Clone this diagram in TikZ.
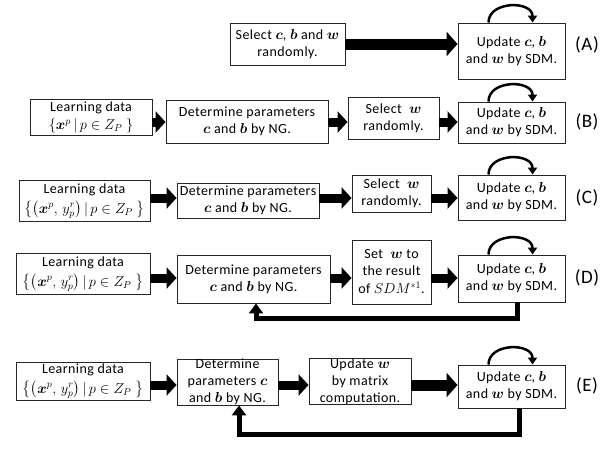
\documentclass[tikz,border=0pt]{standalone}
\usepackage{amsmath,amssymb}
\usepackage{fontspec}
\setmainfont{Carlito}[LetterSpace=3]
\usetikzlibrary{arrows.meta}
\newcommand{\bv}[1]{\boldsymbol{#1}}
\newcommand{\lset}{$\bigl\{\bigl(\bv{x}^{p},\, y^{r}_{p}\bigr)\,|\,p\in Z_P\ \bigr\}$}
\begin{document}
\begin{tikzpicture}[x=1pt,y=-1pt,
  box/.style={draw=black!85, line width=0.9pt, fill=white, inner sep=0pt, align=center,
    font=\fontsize{14}{17}\selectfont},
  blk/.style={line width=9pt, -{Triangle[length=10pt,width=21pt]}},
  blkb/.style={line width=11pt, -{Triangle[length=11pt,width=24pt]}},
  fb/.style={line width=5pt, line join=miter, -{Triangle[length=10pt,width=14pt]}},
  lp/.style={line width=2.5pt, -{Triangle[length=7pt,width=9pt]}},
  lbl/.style={font=\fontsize{19}{22}\selectfont}]
\useasboundingbox (0,0) rectangle (610,448);

% ---- Row A
\node[box, minimum width=115pt, minimum height=42pt] (sA) at (287.5,44) {Select $\bv{c}$, $\bv{b}$ and $\bv{w}$\\randomly.};
\node[box, minimum width=107pt, minimum height=56pt] (uA) at (511.5,51) {Update $\bv{c}$, $\bv{b}$\\and $\bv{w}$ by SDM.};
\node[lbl] (tA) at (587,45) {(A)};
\coordinate (aA) at (0,44);
\draw[blkb] (sA.east |- aA) -- (uA.west |- aA);
\draw[lp] ([xshift=-23pt]uA.north) .. controls +(0,-22) and +(0,-22) .. ([xshift=21pt]uA.north);

% ---- Row B
\node[box, minimum width=122pt, minimum height=36pt] (lB) at (91,117.5) {Learning data\\[1pt]$\{\bv{x}^p\,|\,p\in Z_P\ \}$};
\node[box, minimum width=162pt, minimum height=43pt] (dB) at (247,121.5) {Determine parameters\\$\bv{c}$ and $\bv{b}$ by NG.};
\node[box, minimum width=91pt, minimum height=42pt] (sB) at (393.5,118) {Select\ \ $\bv{w}$\\randomly.};
\node[box, minimum width=107pt, minimum height=41pt] (uB) at (511.5,122.5) {Update $\bv{c}$, $\bv{b}$\\and $\bv{w}$ by SDM.};
\node[lbl] (tB) at (587,122) {(B)};
\coordinate (aB) at (0,122);
\draw[blk] (lB.east |- aB) -- (dB.west |- aB);
\draw[blk] (dB.east |- aB) -- (sB.west |- aB);
\draw[blk] (sB.east |- aB) -- (uB.west |- aB);
\draw[lp] ([xshift=-23pt]uB.north) .. controls +(0,-22) and +(0,-22) .. ([xshift=21pt]uB.north);

% ---- Row C
\node[box, minimum width=131pt, minimum height=41pt] (lC) at (84.5,201) {Learning data\\[3pt]\lset};
\node[box, minimum width=142pt, minimum height=35pt] (dC) at (248,200.5) {Determine parameters\\$\bv{c}$ and $\bv{b}$ by NG.};
\node[box, minimum width=79pt, minimum height=37pt] (sC) at (391.5,193.5) {Select\ \ $\bv{w}$\\randomly.};
\node[box, minimum width=107pt, minimum height=45pt] (uC) at (511.5,197.5) {Update $\bv{c}$, $\bv{b}$\\and $\bv{w}$ by SDM.};
\node[lbl] (tC) at (587,198) {(C)};
\coordinate (aC) at (0,198);
\draw[blk] (lC.east |- aC) -- (dC.west |- aC);
\draw[blk] (dC.east |- aC) -- (sC.west |- aC);
\draw[blk] (sC.east |- aC) -- (uC.west |- aC);
\draw[lp] ([xshift=-23pt]uC.north) .. controls +(0,-22) and +(0,-22) .. ([xshift=21pt]uC.north);

% ---- Row D
\node[box, minimum width=134pt, minimum height=41pt] (lD) at (83,274) {Learning data\\[3pt]\lset};
\node[box, minimum width=153pt, minimum height=48pt] (dD) at (253.5,279) {Determine parameters\\$\bv{c}$ and $\bv{b}$ by NG.};
\node[box, minimum width=79pt, minimum height=64pt] (sD) at (391.5,272) {Set\ \ $\bv{w}$\ to\\the result\\[1pt]of $SDM^{*1}$.};
\node[box, minimum width=107pt, minimum height=47pt] (uD) at (511.5,278.5) {Update $\bv{c}$, $\bv{b}$\\and $\bv{w}$ by SDM.};
\node[lbl] (tD) at (587,278) {(D)};
\coordinate (aD) at (0,278);
\draw[blk] (lD.east |- aD) -- (dD.west |- aD);
\draw[blk] (dD.east |- aD) -- (sD.west |- aD);
\draw[blk] (sD.east |- aD) -- (uD.west |- aD);
\draw[lp] ([xshift=-23pt]uD.north) .. controls +(0,-22) and +(0,-22) .. ([xshift=21pt]uD.north);
\coordinate (fD1) at (517,318);
\coordinate (fD2) at (256,318);
\draw[fb] (uD.south -| fD1) -- (fD1) -- (fD2) -- (dD.south -| fD2);

% ---- Row E
\node[box, minimum width=134pt, minimum height=38pt] (lE) at (83,381) {Learning data\\[3pt]\lset};
\node[box, minimum width=101pt, minimum height=44pt] (dE) at (227.5,382) {Determine\\parameters $\bv{c}$\\and $\bv{b}$ by NG.};
\node[box, minimum width=102pt, minimum height=43pt] (wE) at (360,381.5) {Update $\bv{w}$\\by matrix\\computation.};
\node[box, minimum width=107pt, minimum height=43pt] (uE) at (511.5,386.5) {Update $\bv{c}$, $\bv{b}$\\and $\bv{w}$ by SDM.};
\node[lbl] (tE) at (587,386) {(E)};
\coordinate (aE) at (0,385);
\draw[blk] (lE.east |- aE) -- (dE.west |- aE);
\draw[blk] (dE.east |- aE) -- (wE.west |- aE);
\draw[blkb] (wE.east |- aE) -- (uE.west |- aE);
\draw[lp] ([xshift=-23pt]uE.north) .. controls +(0,-22) and +(0,-22) .. ([xshift=21pt]uE.north);
\coordinate (fE1) at (519,434);
\coordinate (fE2) at (239,434);
\draw[fb] (uE.south -| fE1) -- (fE1) -- (fE2) -- (dE.south -| fE2);
\end{tikzpicture}
\end{document}
